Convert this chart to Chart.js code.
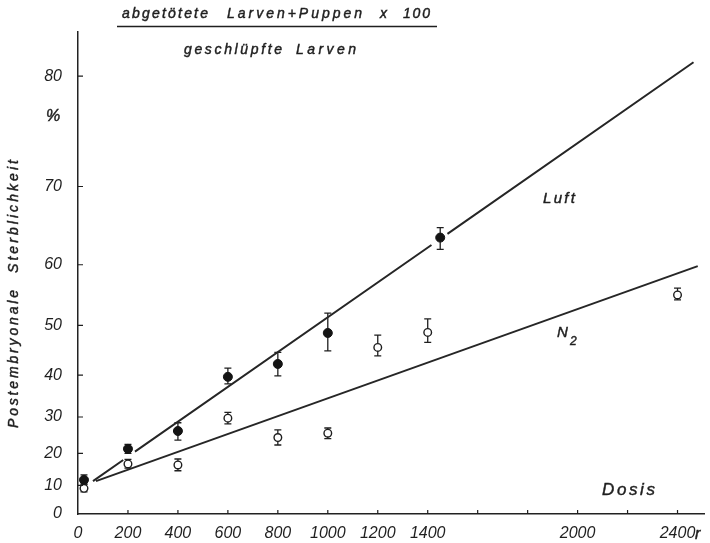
<!DOCTYPE html>
<html>
<head>
<meta charset="utf-8">
<script src="https://cdn.jsdelivr.net/npm/chart.js@4.4.1/dist/chart.umd.min.js"></script>
<style>
  html, body { margin: 0; padding: 0; background: #ffffff; }
  #wrap { width: 710px; height: 543px; }
</style>
</head>
<body>
<div id="wrap"><canvas id="chart" width="710" height="543"></canvas></div>
<script>
// Dose axis (r) and mortality axis (%) tick values
const doseTicks = [0, 200, 400, 600, 800, 1000, 1200, 1400, 1600, 1800, 2000, 2200, 2400];
const doseLabels = ['0', '200', '400', '600', '800', '1000', '1200', '1400', '', '', '2000', '', '2400'];
const mortalityTicks = [0, 10, 20, 30, 40, 50, 60, 70, 80];

// Irradiated in air (filled circles)
const luftDose = [24, 200, 400, 600, 800, 1000, 1450];
const luftMortality = [11.8, 21.3, 26.3, 39.6, 42.4, 48.6, 63.8];
const luftLow = [10.4, 20.0, 23.8, 38.0, 39.8, 45.1, 62.2];
const luftHigh = [13.4, 22.6, 28.5, 41.5, 44.8, 52.2, 65.1];

// Irradiated under nitrogen (open circles)
const n2Dose = [24, 200, 400, 600, 800, 1000, 1200, 1400, 2400];
const n2Mortality = [9.0, 16.8, 16.5, 29.7, 24.5, 25.7, 45.8, 48.7, 55.3];
const n2Low = [7.8, 15.5, 14.7, 28.2, 22.4, 24.2, 44.1, 46.8, 54.5];
const n2High = [10.4, 18.2, 18.3, 31.2, 26.6, 27.1, 48.2, 51.2, 56.4];

// Fitted lines (null = break in the drawn line around a data point)
const luftFitDose = [60, 181, 200, 228, 1415, 1450, 1479, 2464];
const luftFitMortality = [11.4, 18.0, null, 20.5, 62.8, null, 64.3, 81.0];
const n2FitDose = [72, 2481];
const n2FitMortality = [11.4, 59.8];

const INK = '#1f1f1f';
const FONT = '"Liberation Sans", Arial, sans-serif';

// Mortality scale: linear in -ln(1 - p), so exponential survival plots as straight lines
class MortalityScale extends Chart.LinearScale {
  static id = 'mortality';
  static defaults = {};
  _tr(v) { return -Math.log(1 - v / 100); }
  getPixelForValue(value) {
    const a = this._tr(this.min), b = this._tr(this.max);
    return this.getPixelForDecimal((this._tr(value) - a) / (b - a));
  }
  getValueForPixel(pixel) {
    const a = this._tr(this.min), b = this._tr(this.max);
    const t = a + this.getDecimalForPixel(pixel) * (b - a);
    return 100 * (1 - Math.exp(-t));
  }
}
Chart.register(MortalityScale);

const pairs = (xs, ys) => xs.map((x, i) => ({ x, y: ys[i] }));

// Draw letter-spaced text so that it spans the given width
function spaced(ctx, text, x, y, width) {
  const chars = [...text];
  const natural = chars.reduce((s, ch) => s + ctx.measureText(ch).width, 0);
  const gap = chars.length > 1 ? Math.max(0, (width - natural) / (chars.length - 1)) : 0;
  let cx = x;
  for (const ch of chars) {
    ctx.fillText(ch, cx, y);
    ctx.strokeText(ch, cx, y);
    cx += ctx.measureText(ch).width + gap;
  }
}

const annotate = {
  id: 'annotate',
  beforeDatasetsDraw(chart) {
    const { ctx, scales: { x, y } } = chart;
    ctx.save();
    ctx.strokeStyle = INK;
    ctx.lineWidth = 1.3;
    const bars = (dose, low, high) => {
      dose.forEach((d, i) => {
        const px = x.getPixelForValue(d);
        const y1 = y.getPixelForValue(high[i]);
        const y2 = y.getPixelForValue(low[i]);
        ctx.beginPath();
        ctx.moveTo(px, y1); ctx.lineTo(px, y2);
        ctx.moveTo(px - 3.5, y1); ctx.lineTo(px + 3.5, y1);
        ctx.moveTo(px - 3.5, y2); ctx.lineTo(px + 3.5, y2);
        ctx.stroke();
      });
    };
    bars(luftDose, luftLow, luftHigh);
    bars(n2Dose, n2Low, n2High);
    ctx.restore();
  },
  afterDraw(chart) {
    const { ctx, scales: { x, y }, chartArea } = chart;
    ctx.save();
    // inward tick marks
    ctx.strokeStyle = INK;
    ctx.lineWidth = 1.2;
    ctx.beginPath();
    doseTicks.forEach(v => {
      const px = x.getPixelForValue(v);
      if (v > 0) { ctx.moveTo(px, chartArea.bottom); ctx.lineTo(px, chartArea.bottom - 4); }
    });
    mortalityTicks.forEach(v => {
      const py = y.getPixelForValue(v);
      if (v > 0) { ctx.moveTo(chartArea.left, py); ctx.lineTo(chartArea.left + 5, py); }
    });
    ctx.stroke();

    ctx.fillStyle = INK;
    ctx.strokeStyle = INK;
    ctx.lineWidth = 0.45;
    ctx.textBaseline = 'alphabetic';
    ctx.textAlign = 'left';

    // formula above the plot
    ctx.font = 'italic 14px ' + FONT;
    spaced(ctx, 'abgetötete', 122, 18, 86);
    spaced(ctx, 'Larven+Puppen', 227, 18, 135);
    spaced(ctx, 'x', 380, 18, 8);
    spaced(ctx, '100', 403, 18, 27);
    spaced(ctx, 'geschlüpfte', 184, 54, 98);
    spaced(ctx, 'Larven', 296, 54, 60);
    ctx.lineWidth = 1.5;
    ctx.beginPath();
    ctx.moveTo(117, 26.5); ctx.lineTo(437, 26.5);
    ctx.stroke();
    ctx.lineWidth = 0.45;

    // unit signs
    ctx.font = 'italic 16px ' + FONT;
    spaced(ctx, '%', 46, 121, 0);
    spaced(ctx, 'r', 695, 539, 0);

    // curve labels
    ctx.font = 'italic 15px ' + FONT;
    spaced(ctx, 'Luft', 543, 203, 32);
    spaced(ctx, 'N', 557, 337, 0);
    ctx.font = 'italic 12px ' + FONT;
    spaced(ctx, '2', 570, 345, 0);
    ctx.font = 'italic 17px ' + FONT;
    spaced(ctx, 'Dosis', 602, 495, 53);

    // y axis title, rotated
    ctx.translate(18, 428);
    ctx.rotate(-Math.PI / 2);
    ctx.font = 'italic 14px ' + FONT;
    spaced(ctx, 'Postembryonale', 0, 0, 138);
    spaced(ctx, 'Sterblichkeit', 155, 0, 113);
    ctx.restore();
  }
};

new Chart(document.getElementById('chart'), {
  data: {
    datasets: [
      {
        type: 'line',
        data: pairs(luftFitDose, luftFitMortality),
        borderColor: '#262626',
        borderWidth: 2,
        pointRadius: 0,
        spanGaps: false,
        fill: false
      },
      {
        type: 'line',
        data: pairs(n2FitDose, n2FitMortality),
        borderColor: '#262626',
        borderWidth: 2,
        pointRadius: 0,
        fill: false
      },
      {
        type: 'scatter',
        data: pairs(luftDose, luftMortality),
        pointStyle: 'circle',
        pointRadius: 4.5,
        pointBackgroundColor: '#141414',
        pointBorderColor: '#141414',
        pointBorderWidth: 1
      },
      {
        type: 'scatter',
        data: pairs(n2Dose, n2Mortality),
        pointStyle: 'circle',
        pointRadius: 3.8,
        pointBackgroundColor: '#ffffff',
        pointBorderColor: '#1f1f1f',
        pointBorderWidth: 1.4
      }
    ]
  },
  options: {
    responsive: false,
    animation: false,
    layout: { padding: { top: 32, right: 5, left: 0, bottom: 0 } },
    plugins: { legend: { display: false }, tooltip: { enabled: false }, title: { display: false } },
    scales: {
      x: {
        type: 'linear',
        min: 0,
        max: 2508,
        afterFit: s => { s.height = 29; },
        afterBuildTicks: s => { s.ticks = doseTicks.map(v => ({ value: v })); },
        grid: { display: false, drawTicks: false },
        border: { display: true, color: '#222', width: 1.5 },
        ticks: {
          autoSkip: false,
          maxRotation: 0,
          padding: 10,
          color: INK,
          font: { family: FONT, size: 16, style: 'italic' },
          callback: (v) => doseLabels[doseTicks.indexOf(v)] ?? ''
        }
      },
      y: {
        type: 'mortality',
        min: 0,
        max: 83,
        afterFit: s => { s.width = 78; },
        afterBuildTicks: s => { s.ticks = mortalityTicks.map(v => ({ value: v })); },
        grid: { display: false, drawTicks: false },
        border: { display: true, color: '#222', width: 1.5 },
        ticks: {
          autoSkip: false,
          padding: 16,
          color: INK,
          font: { family: FONT, size: 16, style: 'italic' },
          callback: (v) => String(v)
        }
      }
    }
  },
  plugins: [annotate]
});
</script>
</body>
</html>
